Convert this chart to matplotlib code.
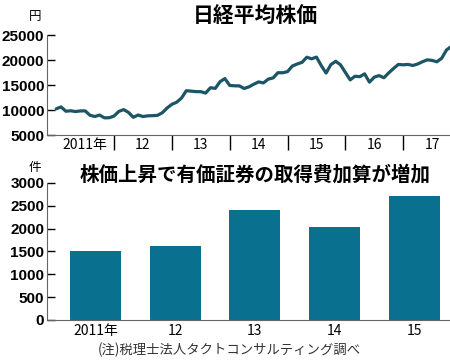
import matplotlib
matplotlib.use("Agg")
import matplotlib.pyplot as plt
import numpy as np

plt.rcParams['font.family'] = ['Noto Sans CJK JP', 'DejaVu Sans']

# data: Nikkei monthly, Jan 2011 - Nov 2017
nikkei = [10237, 10624, 9755, 9849, 9693, 9816, 9833, 8955, 8700, 8988, 8434, 8455,
          8802, 9723, 10083, 9520, 8542, 9006, 8695, 8839, 8870, 8928, 9446, 10395,
          11138, 11559, 12397, 13860, 13774, 13677, 13668, 13389, 14455, 14327, 15662, 16291,
          14914, 14841, 14828, 14304, 14632, 15162, 15621, 15425, 16174, 16414, 17459, 17451,
          17674, 18797, 19207, 19520, 20563, 20236, 20585, 18890, 17388, 19083, 19747, 19034,
          17518, 16027, 16759, 16666, 17235, 15576, 16569, 16887, 16450, 17425, 18308, 19114,
          19041, 19119, 18909, 19197, 19651, 20033, 19925, 19646, 20356, 22012, 22725]
year_labels = ['2011年', '12', '13', '14', '15', '16', '17']

# data: cases
bar_labels = ['2011年', '12', '13', '14', '15']
cases = [1500, 1620, 2400, 2030, 2720]

line_color = '#1b5566'
bar_color = '#0a7090'
num_font = ['Liberation Sans Narrow', 'Liberation Sans', 'DejaVu Sans']

fig = plt.figure(figsize=(4.5, 3.61), dpi=100)

# top chart
ax1 = fig.add_axes([0.1044, 0.626, 0.8956, 0.277])
t = 2011 + np.arange(len(nikkei)) / 12
ax1.plot(t, nikkei, color=line_color, lw=2.3, solid_capstyle='round')
ax1.set_xlim(2010.84, 2017.81)
ax1.set_ylim(5000, 25000)
ax1.set_yticks([5000, 10000, 15000, 20000, 25000])
ax1.set_yticklabels(['5000', '10000', '15000', '20000', '25000'],
                    family=num_font, fontweight='bold', fontsize=11)
ax1.tick_params(axis='y', direction='in', length=6, pad=2, width=1)
ax1.set_xticks(np.arange(2012, 2018))
ax1.set_xticklabels([])
ax1.tick_params(axis='x', which='major', direction='out', length=11, width=1)
ax1.set_xticks(np.arange(2011, 2018) + 0.5, minor=True)
ax1.set_xticklabels(year_labels, minor=True, fontsize=10)
ax1.tick_params(axis='x', which='minor', length=0, pad=2)
for s in ['top', 'right']:
    ax1.spines[s].set_visible(False)
ax1.spines['bottom'].set_color('#666666')
ax1.spines['left'].set_color('#666666')
fig.text(0.078, 0.953, '円', fontsize=9, ha='center', va='center')
fig.text(0.567, 0.955, '日経平均株価', fontsize=15, fontweight='bold', ha='center', va='center')

# bottom chart
ax2 = fig.add_axes([0.1044, 0.1136, 0.8956, 0.3795])
x = np.arange(len(cases))
ax2.bar(x, cases, width=0.64, color=bar_color)
ax2.set_xlim(-0.61, 4.45)
ax2.set_ylim(0, 3000)
ax2.set_yticks([0, 500, 1000, 1500, 2000, 2500, 3000])
ax2.set_yticklabels(['0', '500', '1000', '1500', '2000', '2500', '3000'],
                    family=num_font, fontweight='bold', fontsize=11)
ax2.tick_params(axis='y', direction='in', length=6, pad=2, width=1)
ax2.set_xticks(x)
ax2.set_xticklabels(bar_labels, fontsize=10)
ax2.tick_params(axis='x', length=0, pad=3)
for s in ['top', 'right']:
    ax2.spines[s].set_visible(False)
ax2.spines['bottom'].set_color('#666666')
ax2.spines['left'].set_color('#666666')
fig.text(0.078, 0.535, '件', fontsize=9, ha='center', va='center')
fig.text(0.566, 0.515, '株価上昇で有価証券の取得費加算が増加', fontsize=14,
         fontweight='bold', ha='center', va='center')
fig.text(0.51, 0.03, '(注)税理士法人タクトコンサルティング調べ', fontsize=9.6,
         ha='center', va='center', color='#333333')

fig.savefig('out.png', dpi=100)
